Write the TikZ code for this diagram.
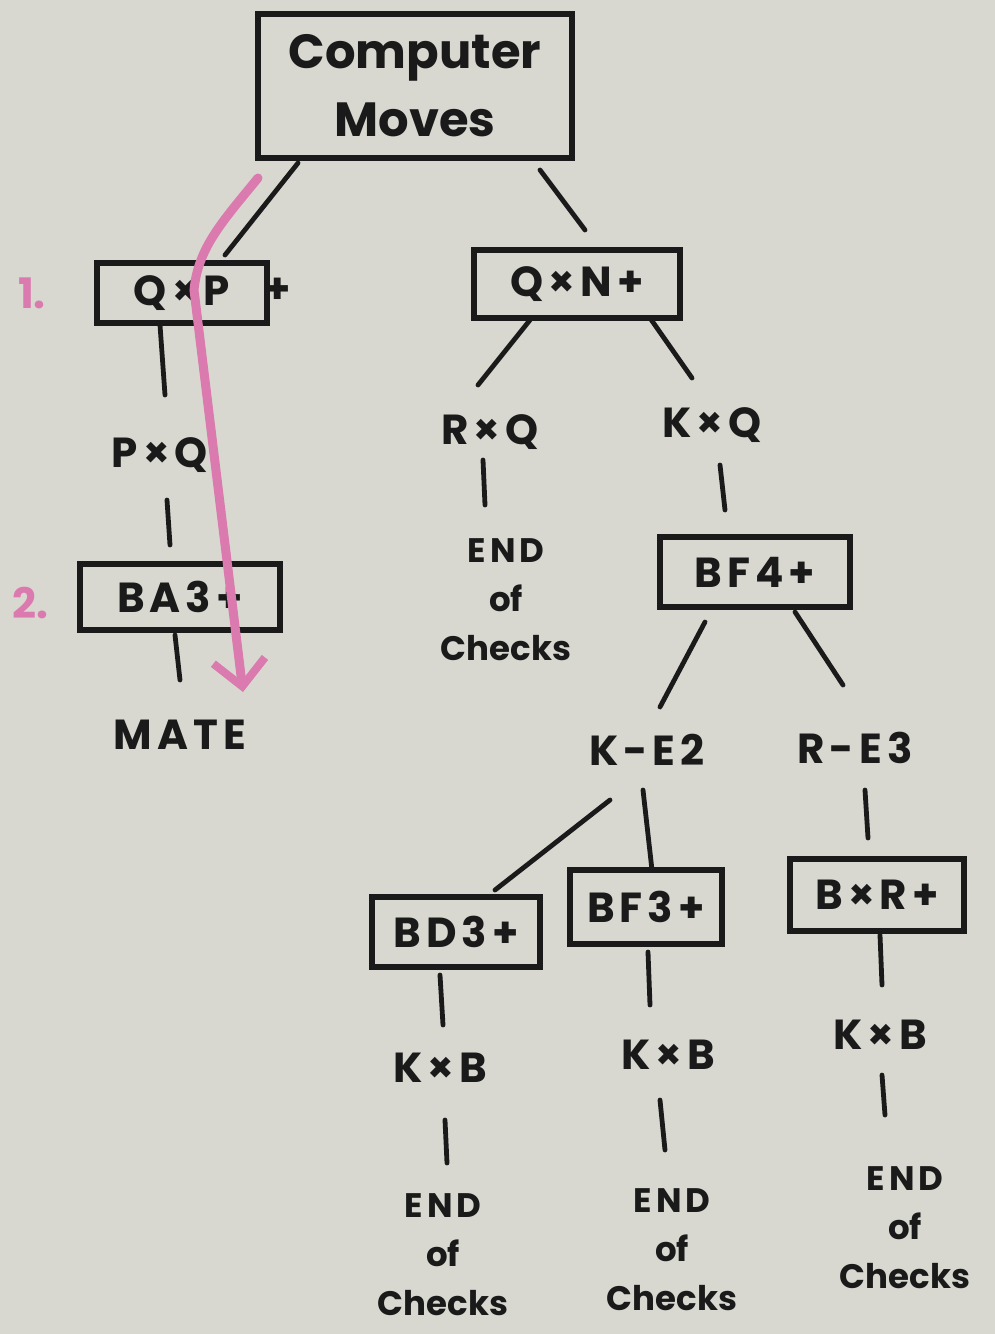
\documentclass[tikz,border=0pt]{standalone}
\usepackage{fontspec}
\setmainfont{Poppins}
\newfontfamily\hand[LetterSpace=12]{Poppins}
\usetikzlibrary{calc,arrows.meta}
\definecolor{paper}{HTML}{D8D8D0}
\definecolor{ink}{HTML}{1A1A1A}
\definecolor{pinkmark}{HTML}{DA7AAE}
\begin{document}
\begin{tikzpicture}[x=0.5pt,y=-0.5pt,
  every node/.style={text=ink,font=\hand\bfseries\fontsize{21}{25}\selectfont,inner sep=0pt},
  movebox/.style={draw=ink,line width=2.8pt,minimum width=#1,align=center},
  movetext/.style={align=center},
  endtext/.style={align=center,font=\bfseries\fontsize{17}{24.5}\selectfont},
  conn/.style={draw=ink,line width=2.4pt,line cap=round},
  marklabel/.style={text=pinkmark,font=\bfseries\fontsize{21}{24}\selectfont}]
\fill[paper] (0,0) rectangle (995,1334);
\useasboundingbox (0,0) rectangle (995,1334);

% nodes
\node[movebox=157pt,minimum height=72pt,font=\bfseries\fontsize{24}{34}\selectfont] (cm) at (415,86) {Computer\\Moves};
\node[movebox=85pt,minimum height=30pt] (qxp) at (182,293) {Q×P};
\node (qxpplus) at (278,291) {+};
\node[movebox=103pt,minimum height=34pt] (qxn) at (577,284) {Q×N+};
\node[movetext] (pxq) at (160,455) {P×Q};
\node[movetext] (rxq) at (490,432) {R×Q};
\node[movetext] (kxq) at (712,425) {K×Q};
\node[endtext] (end1) at (506,600) {{\hand END}\\of\\Checks};
\node[movebox=100pt,minimum height=33pt] (ba3) at (180,597) {BA3+};
\node[movetext] (mate) at (180,735) {MATE};
\node[movebox=95pt,minimum height=35pt] (bf4) at (755,572) {BF4+};
\node[movetext] (ke2) at (647,750) {K-E2};
\node[movetext] (re3) at (855,748) {R-E3};
\node[movebox=84pt,minimum height=35pt] (bd3) at (456,932) {BD3+};
\node[movebox=76pt,minimum height=37pt] (bf3) at (646,907) {BF3+};
\node[movebox=87pt,minimum height=36pt] (bxr) at (877,895) {B×R+};
\node[movetext] (kxb1) at (440,1068) {K×B};
\node[movetext] (kxb2) at (668,1055) {K×B};
\node[movetext] (kxb3) at (880,1035) {K×B};
\node[endtext] (end2) at (443,1255) {{\hand END}\\of\\Checks};
\node[endtext] (end3) at (672,1250) {{\hand END}\\of\\Checks};
\node[endtext] (end4) at (905,1228) {{\hand END}\\of\\Checks};

\node[marklabel] (m1) at (32,293) {1.};
\node[marklabel] (m2) at (30,603) {2.};

% connectors
\draw[conn] ($(cm)+(-117,77)$) -- ($(qxp)+(43,-38)$);
\draw[conn] ($(cm)+(125,84)$) -- ($(qxn)+(8,-54)$);
\draw[conn] ($(qxn)+(-47,36)$) -- ($(rxq)+(-12,-47)$);
\draw[conn] ($(qxn)+(73,34)$) -- ($(kxq)+(-20,-47)$);
\draw[conn] ($(qxp)+(-22,32)$) -- ($(pxq)+(5,-60)$);
\draw[conn] ($(pxq)+(7,45)$) -- ($(ba3)+(-10,-52)$);
\draw[conn] ($(ba3)+(-5,38)$) -- ($(mate)+(0,-55)$);
\draw[conn] ($(rxq)+(-7,28)$) -- ($(end1)+(-21,-95)$);
\draw[conn] ($(kxq)+(8,40)$) -- ($(bf4)+(-30,-62)$);
\draw[conn] ($(bf4)+(-50,50)$) -- ($(ke2)+(13,-43)$);
\draw[conn] ($(bf4)+(40,40)$) -- ($(re3)+(-12,-63)$);
\draw[conn] ($(ke2)+(-37,50)$) -- ($(bd3)+(39,-42)$);
\draw[conn] ($(ke2)+(-4,40)$) -- ($(bf3)+(6,-37)$);
\draw[conn] ($(re3)+(10,42)$) -- ($(bxr)+(-9,-57)$);
\draw[conn] ($(bd3)+(-16,43)$) -- ($(kxb1)+(3,-43)$);
\draw[conn] ($(bf3)+(2,45)$) -- ($(kxb2)+(-18,-50)$);
\draw[conn] ($(bxr)+(3,40)$) -- ($(kxb3)+(2,-50)$);
\draw[conn] ($(kxb1)+(5,52)$) -- ($(end2)+(4,-92)$);
\draw[conn] ($(kxb2)+(-8,45)$) -- ($(end3)+(-7,-100)$);
\draw[conn] ($(kxb3)+(2,40)$) -- ($(end4)+(-20,-113)$);

% pink path of play
\coordinate (pstart) at (258,178);
\coordinate (pend) at (243,692);
\draw[pinkmark,line width=4.5pt,line cap=round,-{Straight Barb[length=13pt,width=26pt,line width=4pt]}]
  (pstart) .. controls (222,222) and (198,248) .. (194,290) -- (pend);
\end{tikzpicture}
\end{document}
